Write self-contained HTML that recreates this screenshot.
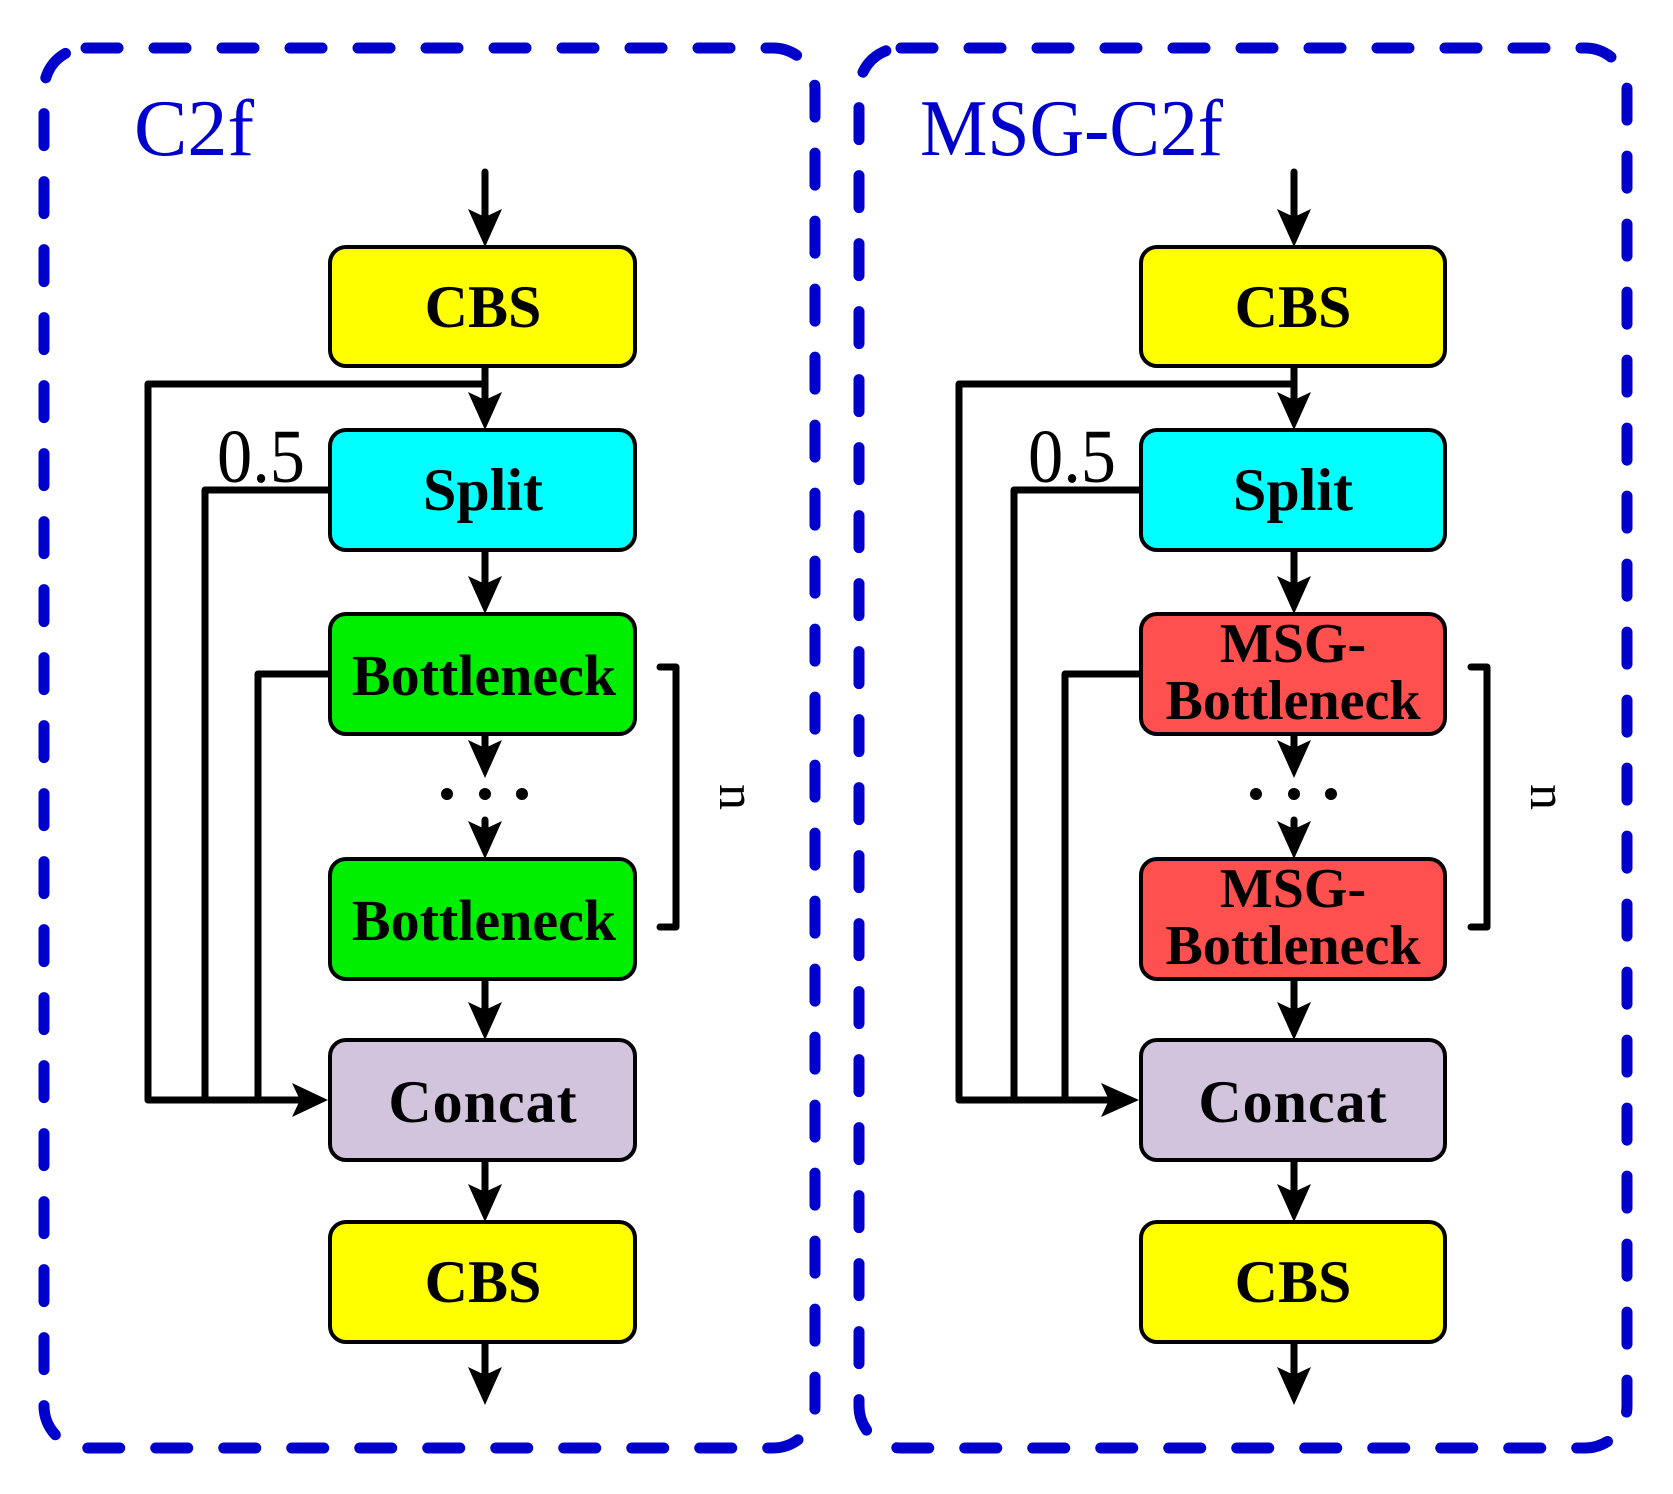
<!DOCTYPE html>
<html><head><meta charset="utf-8"><style>html,body{margin:0;padding:0;background:#fff}svg{display:block}</style></head>
<body>
<svg width="1673" height="1494" viewBox="0 0 1673 1494" xmlns="http://www.w3.org/2000/svg" font-family="'Liberation Serif', serif">
<defs>
<g id="ah"><polygon points="-17,-38 0,-30 17,-38 0,0" fill="#000"/></g>
</defs>
<g fill="none" stroke="#0000cc" stroke-width="11" stroke-linecap="round" stroke-dasharray="32 36">
<rect x="44" y="48" width="771" height="1400" rx="42"/>
<rect x="859" y="48" width="768" height="1400" rx="42"/>
</g>
<text x="134" y="155" font-size="80" fill="#0000cc">C2f</text>
<text x="920" y="155" font-size="80" fill="#0000cc" textLength="303" lengthAdjust="spacingAndGlyphs">MSG-C2f</text>

<g>
<g stroke="#000" stroke-width="7" fill="none" stroke-linecap="round" stroke-linejoin="round">
<line x1="485" y1="172" x2="485" y2="225"/>
<line x1="485" y1="366" x2="485" y2="405"/>
<polyline points="485,384 148,384 148,1100 305,1100"/>
<polyline points="330,490 205,490 205,1100"/>
<polyline points="330,674 258,674 258,1100"/>
<line x1="485" y1="550" x2="485" y2="590"/>
<line x1="485" y1="734" x2="485" y2="755"/>
<line x1="485" y1="820" x2="485" y2="837"/>
<line x1="485" y1="979" x2="485" y2="1018"/>
<line x1="485" y1="1160" x2="485" y2="1200"/>
<line x1="485" y1="1342" x2="485" y2="1382"/>
<polyline points="660,667 676,667 676,927 660,927"/>
</g>
<use href="#ah" x="485" y="247"/>
<use href="#ah" x="485" y="430"/>
<use href="#ah" x="485" y="614"/>
<use href="#ah" x="485" y="778"/>
<use href="#ah" x="485" y="859"/>
<use href="#ah" x="485" y="1040"/>
<use href="#ah" x="485" y="1222"/>
<use href="#ah" x="485" y="1405"/>
<polygon points="292,1083 300,1100 292,1117 328,1100" fill="#000"/>
<circle cx="447" cy="794" r="6"/><circle cx="485" cy="794" r="6"/><circle cx="522" cy="794" r="6"/>
<text x="217" y="482" font-size="76" textLength="88" lengthAdjust="spacingAndGlyphs">0.5</text>
<text transform="translate(720,797) rotate(90)" font-size="52" text-anchor="middle">n</text>
<g stroke="#000" stroke-width="4">
<rect x="330" y="247" width="305" height="119" rx="16" fill="#ffff00"/>
<rect x="330" y="430" width="305" height="120" rx="16" fill="#00ffff"/>
<rect x="330" y="614" width="305" height="120" rx="16" fill="#00ee00"/>
<rect x="330" y="859" width="305" height="120" rx="16" fill="#00ee00"/>
<rect x="330" y="1040" width="305" height="120" rx="16" fill="#d1c4dc"/>
<rect x="330" y="1222" width="305" height="120" rx="16" fill="#ffff00"/>
</g>
<g font-weight="bold" font-size="60" text-anchor="middle">
<text x="483" y="327">CBS</text>
<text x="483" y="510">Split</text>
<text x="483" y="1122" letter-spacing="1">Concat</text>
<text x="483" y="1302">CBS</text>
</g>
<g font-weight="bold" font-size="58" text-anchor="middle">
<text x="484" y="695">Bottleneck</text>
<text x="484" y="940">Bottleneck</text>
</g>
</g>

<g transform="translate(809,0)">
<g stroke="#000" stroke-width="7" fill="none" stroke-linecap="round" stroke-linejoin="round">
<line x1="485" y1="172" x2="485" y2="225"/>
<line x1="485" y1="366" x2="485" y2="405"/>
<polyline points="485,384 150,384 150,1100 305,1100"/>
<polyline points="330,490 205,490 205,1100"/>
<polyline points="330,674 256,674 256,1100"/>
<line x1="485" y1="550" x2="485" y2="590"/>
<line x1="485" y1="734" x2="485" y2="755"/>
<line x1="485" y1="820" x2="485" y2="837"/>
<line x1="485" y1="979" x2="485" y2="1018"/>
<line x1="485" y1="1160" x2="485" y2="1200"/>
<line x1="485" y1="1342" x2="485" y2="1382"/>
<polyline points="662,667 678,667 678,927 662,927"/>
</g>
<use href="#ah" x="485" y="247"/>
<use href="#ah" x="485" y="430"/>
<use href="#ah" x="485" y="614"/>
<use href="#ah" x="485" y="778"/>
<use href="#ah" x="485" y="859"/>
<use href="#ah" x="485" y="1040"/>
<use href="#ah" x="485" y="1222"/>
<use href="#ah" x="485" y="1405"/>
<polygon points="292,1083 300,1100 292,1117 330,1100" fill="#000"/>
<circle cx="447" cy="794" r="6"/><circle cx="485" cy="794" r="6"/><circle cx="522" cy="794" r="6"/>
<text x="219" y="482" font-size="76" textLength="88" lengthAdjust="spacingAndGlyphs">0.5</text>
<text transform="translate(722,797) rotate(90)" font-size="52" text-anchor="middle">n</text>
<g stroke="#000" stroke-width="4">
<rect x="332" y="247" width="304" height="119" rx="16" fill="#ffff00"/>
<rect x="332" y="430" width="304" height="120" rx="16" fill="#00ffff"/>
<rect x="332" y="614" width="304" height="120" rx="16" fill="#ff5050"/>
<rect x="332" y="859" width="304" height="120" rx="16" fill="#ff5050"/>
<rect x="332" y="1040" width="304" height="120" rx="16" fill="#d1c4dc"/>
<rect x="332" y="1222" width="304" height="120" rx="16" fill="#ffff00"/>
</g>
<g font-weight="bold" font-size="60" text-anchor="middle">
<text x="484" y="327">CBS</text>
<text x="484" y="510">Split</text>
<text x="484" y="1122" letter-spacing="1">Concat</text>
<text x="484" y="1302">CBS</text>
</g>
<g font-weight="bold" font-size="56" text-anchor="middle">
<text x="484" y="662">MSG-</text>
<text x="484" y="719">Bottleneck</text>
<text x="484" y="907">MSG-</text>
<text x="484" y="964">Bottleneck</text>
</g>
</g>
</svg>
</body></html>
